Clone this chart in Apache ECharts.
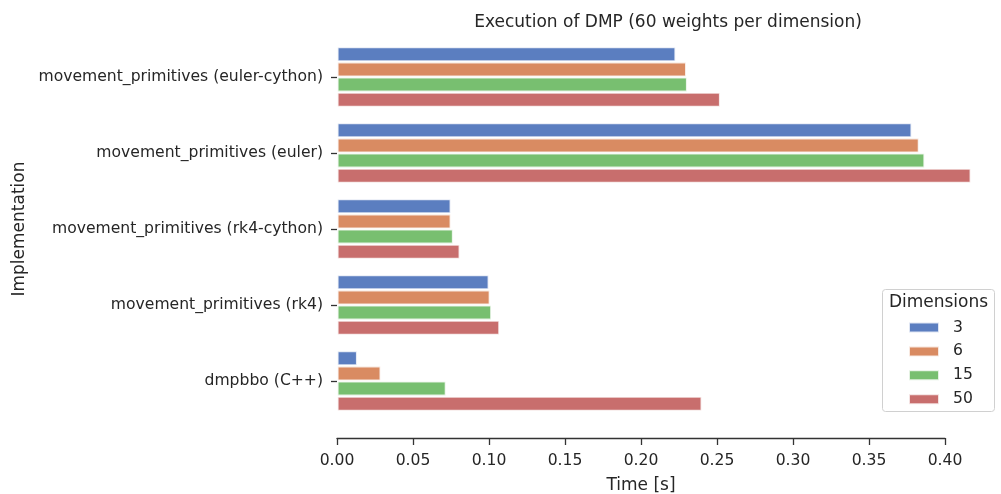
<!DOCTYPE html>
<html><head><meta charset="utf-8">
<script src="https://cdn.jsdelivr.net/npm/echarts@6/dist/echarts.min.js"></script>
<style>html,body{margin:0;padding:0;background:#fff}#c{width:1001px;height:494px}</style>
</head><body><div id="c"></div>
<script>
const categories = ["movement_primitives (euler-cython)", "movement_primitives (euler)", "movement_primitives (rk4-cython)", "movement_primitives (rk4)", "dmpbbo (C++)"];
const seriesNames = ["3", "6", "15", "50"];
const dim3 = [0.2230, 0.3783, 0.0751, 0.1001, 0.0135];
const dim6 = [0.2300, 0.3831, 0.0751, 0.1008, 0.0290];
const dim15 = [0.2306, 0.3868, 0.0766, 0.1018, 0.0719];
const dim50 = [0.2523, 0.4172, 0.0810, 0.1071, 0.2402];
const xTicks = [0.00, 0.05, 0.10, 0.15, 0.20, 0.25, 0.30, 0.35, 0.40];
const colors = ["#5b7ec0", "#d98b62", "#78bf70", "#c86e6d"];

const txt = "#262626";
const font = "DejaVu Sans";
const tickFs = 15.6, labelFs = 17;
const chart = echarts.init(document.getElementById('c'), null, {renderer: 'canvas'});
const values = [dim3, dim6, dim15, dim50];
chart.setOption({
  animation: false,
  textStyle: {fontFamily: font, color: txt},
  grid: [
    {left: 337, right: 28, top: 39, bottom: 75, containLabel: false, outerBoundsMode: 'none'},
    {left: 337, width: 608, top: 39, bottom: 56, containLabel: false, outerBoundsMode: 'none'}
  ],
  xAxis: [
    {type: 'value', gridIndex: 0, min: 0, max: 636 / 1520, show: false, splitLine: {show: false}},
    {type: 'value', gridIndex: 1, min: xTicks[0], max: xTicks[xTicks.length - 1], interval: 0.05,
      position: 'bottom',
      name: 'Time [s]', nameLocation: 'middle', nameGap: 39,
      nameTextStyle: {fontSize: labelFs, color: txt, fontFamily: font},
      axisLine: {show: true, onZero: false, lineStyle: {color: '#333', width: 1.3}},
      axisTick: {show: true, inside: false, length: 7, lineStyle: {color: '#333', width: 1.3}},
      axisLabel: {fontSize: tickFs, color: txt, fontFamily: font, margin: 15, formatter: v => v.toFixed(2)},
      splitLine: {show: false}}
  ],
  yAxis: [
    {type: 'category', gridIndex: 0, data: categories, inverse: true,
      name: 'Implementation', nameLocation: 'middle', nameGap: 306,
      nameTextStyle: {fontSize: labelFs, color: txt, fontFamily: font},
      axisLine: {show: false},
      axisTick: {show: true, alignWithLabel: true, length: 6, lineStyle: {color: '#333', width: 1.3}},
      axisLabel: {fontSize: tickFs, color: txt, fontFamily: font, margin: 14},
      splitLine: {show: false}},
    {type: 'value', gridIndex: 1, min: 0, max: 1, show: false}
  ],
  legend: {
    orient: 'vertical', left: 908, top: 319.5, padding: 0,
    itemWidth: 30, itemHeight: 10, itemGap: 7.9,
    icon: 'rect',
    data: seriesNames,
    textStyle: {fontSize: tickFs, color: txt, fontFamily: font, lineHeight: 15.6, padding: [0, 0, 0, 9]},
    z: 10
  },
  graphic: [
    {type: 'rect', shape: {x: 882.5, y: 289.5, width: 112, height: 122, r: 3},
      style: {fill: '#fff', stroke: '#d0d0d0', lineWidth: 1}, z: 5},
    {type: 'text', x: 938.5, y: 303, style: {text: 'Dimensions', fontSize: labelFs, fontFamily: font, fill: txt, textAlign: 'center', textVerticalAlign: 'middle'}, z: 6},
    {type: 'text', x: 668, y: 23, style: {text: 'Execution of DMP (60 weights per dimension)', fontSize: labelFs, fontFamily: font, fill: txt, textAlign: 'center', textVerticalAlign: 'middle'}, z: 6}
  ],
  series: seriesNames.map((n, i) => ({
    name: n, type: 'bar', xAxisIndex: 0, yAxisIndex: 0,
    data: values[i], barWidth: 15.2, barGap: '0%',
    itemStyle: {color: colors[i], borderColor: 'rgba(255,255,255,0.8)', borderWidth: 1.6}
  }))
});
</script></body></html>
